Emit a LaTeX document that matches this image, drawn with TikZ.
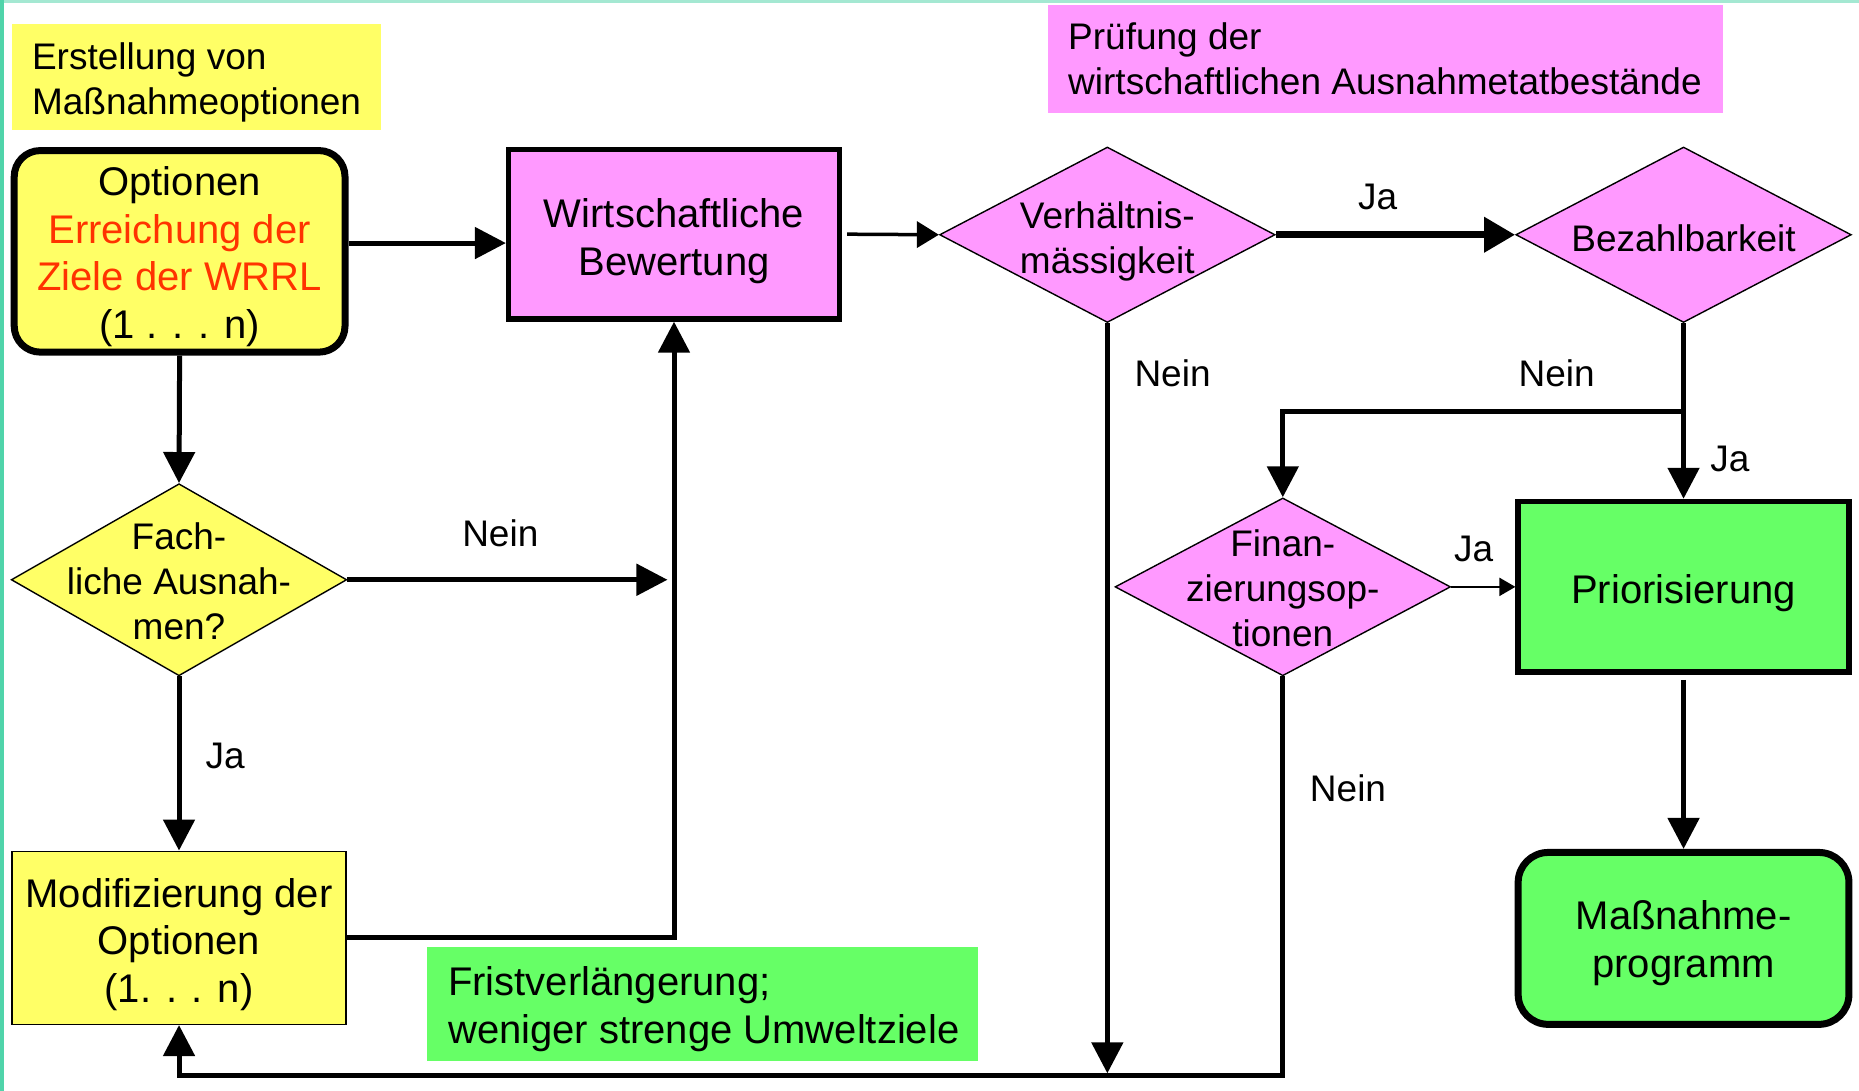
\documentclass[tikz,border=0pt]{standalone}
\usepackage{fontspec}
\setmainfont{Liberation Sans}
\usetikzlibrary{arrows.meta,shapes.geometric,calc}
\definecolor{gelb}{HTML}{FFFF66}
\definecolor{rosa}{HTML}{FF99FF}
\definecolor{gruen}{HTML}{66FF66}
\definecolor{rot}{HTML}{FF3300}
\definecolor{randlinks}{HTML}{50D4AA}
\definecolor{randoben}{HTML}{A4E8D2}
\newdimen\UU \UU=1.1856pt
\tikzset{
  fnt/.style={font=\fontsize{37}{45}\selectfont},
  bigfnt/.style={font=\fontsize{40}{47.5}\selectfont},
  bgbox/.style={inner sep=0pt},
  labtxt/.style={fnt, align=left, anchor=west, inner sep=0pt},
  boxnode/.style={inner sep=0pt, minimum width=279*\UU},
  boxtxt/.style={bigfnt, align=center, inner sep=0pt},
  dia/.style={diamond, draw=black, line width=1.4pt, fill=rosa, inner sep=0pt, minimum width=283*\UU},
  diatxt/.style={fnt, align=center, inner sep=0pt},
  yn/.style={fnt, inner sep=0pt},
  arr/.style={line width=5pt, line join=miter, -{Triangle[length=31pt,width=31pt]}},
  thinarr/.style={line width=3.5pt, -{Triangle[length=22pt,width=26pt]}},
  finearr/.style={line width=2pt, -{Triangle[length=16pt,width=18pt]}},
  fatarr/.style={line width=7pt, -{Triangle[length=31pt,width=34pt]}}
}
\begin{document}
\begin{tikzpicture}[x=1.1856pt, y=-1.1856pt]
\useasboundingbox (0,0) rectangle (1568,920);
\fill[white] (0,0) rectangle (1568,920);
\fill[randoben] (0,0) rectangle (1568,2.6);
\fill[randlinks] (0,0) rectangle (3.4,920);

% label boxes
\node[bgbox, fill=gelb, minimum width=311*\UU, minimum height=90*\UU] (lab1) at (165.5,65) {};
\node[labtxt] (lab1T) at ([yshift=-5pt]lab1.west) [xshift=17*\UU] {Erstellung von\\Maßnahmeoptionen};
\node[bgbox, fill=rosa, minimum width=569*\UU, minimum height=91*\UU] (lab2) at (1168.5,49.5) {};
\node[labtxt] (lab2T) at (lab2.west) [xshift=17*\UU] {Prüfung der\\wirtschaftlichen Ausnahmetatbestände};
\node[bgbox, fill=gruen, minimum width=465*\UU, minimum height=96*\UU] (lab3) at (592.5,847) {};
\node[labtxt, bigfnt] (lab3T) at ([yshift=-5pt]lab3.west) [xshift=18*\UU] {Fristverlängerung;\\weniger strenge Umweltziele};

% boxes
\node[boxnode, draw, fill=gelb, line width=7pt, rounded corners=26pt, minimum height=170*\UU] (opt) at (151.5,212) {};
\node[boxtxt] (optT) at ([yshift=-5.3pt]opt.center)
  {Optionen\\\textcolor{rot}{Erreichung der}\\\textcolor{rot}{Ziele der WRRL}\\(1 . . . n)};
\node[boxnode, draw, fill=rosa, line width=5.5pt, minimum height=143*\UU] (wirt) at (568.5,197.5) {};
\node[boxtxt] (wirtT) at ([yshift=-7pt]wirt.center) {Wirtschaftliche\\Bewertung};
\node[boxnode, draw, fill=gruen, line width=5.5pt, minimum height=144*\UU] (prior) at (1420,495) {};
\node[boxtxt] (priorT) at ([yshift=-6pt]prior.center) {Priorisierung};
\node[boxnode, draw, fill=gruen, line width=7pt, rounded corners=30pt, minimum height=145*\UU] (mass) at (1420,791.5) {};
\node[boxtxt] (massT) at ([yshift=-5pt]mass.center) {Maßnahme-\\programm};
\node[boxnode, draw, fill=gelb, line width=1.4pt, minimum width=282*\UU, minimum height=146*\UU] (modif) at (151,791) {};
\node[boxtxt] (modifT) at ([yshift=-6.5pt]modif.center) {Modifizierung der\\Optionen\\(1. . . n)};

% diamonds
\node[dia, minimum height=148*\UU] (verh) at (934,198) {};
\node[diatxt] (verhT) at ([yshift=-6.5pt]verh.center) {Verhältnis-\\mässigkeit};
\node[dia, minimum height=148*\UU] (bez) at (1420,198) {};
\node[diatxt] (bezT) at ([yshift=-3.5pt]bez.center) {Bezahlbarkeit};
\node[dia, fill=gelb, minimum height=162*\UU] (fach) at (151,489) {};
\node[diatxt] (fachT) at ([yshift=-2pt]fach.center) {Fach-\\liche Ausnah-\\men?};
\node[dia, minimum height=150*\UU] (fin) at (1082,495) {};
\node[diatxt] (finT) at ([yshift=-1pt]fin.center) {Finan-\\zierungsop-\\tionen};

% helper coordinates
\coordinate (yA) at (0,205);
\coordinate (fachEnd) at (563,489);
\coordinate (bezJ) at (1420,347);
\coordinate (bot) at (0,907);

% connectors
\draw[arr] (opt.east |- yA) -- (wirt.west |- yA);
\draw[thinarr, shorten <=5pt] (wirt.east) -- (verh.west);
\draw[fatarr] (verh.east) -- (bez.west);
\draw[arr] (bez.south) -- (bezJ) -- (prior.north);
\draw[arr] (bezJ) -- (fin.north |- bezJ) -- (fin.north);
\draw[arr, shorten >=2pt] (verh.south) -- (verh.south |- bot);
\draw[finearr] (fin.east) -- (prior.west);
\draw[arr, shorten <=5pt] (prior.south) -- (mass.north);
\draw[arr] (fin.south) -- (fin.south |- bot) -- (modif.south |- bot) -- (modif.south);
\draw[arr] (opt.south) -- (fach.north);
\draw[arr] (fach.east) -- (fach.east -| fachEnd);
\draw[arr] (fach.south) -- (modif.north);
\draw[arr] (modif.east) -- (modif.east -| wirt.south) -- (wirt.south);

% yes / no labels
\node[yn] (l1) at (1162,166) {Ja};
\node[yn] (l2) at (989,315) {Nein};
\node[yn] (l3) at (1313,315) {Nein};
\node[yn] (l4) at (1459,387) {Ja};
\node[yn] (l5) at (1243,463) {Ja};
\node[yn] (l6) at (1137,665) {Nein};
\node[yn] (l7) at (422,450) {Nein};
\node[yn] (l8) at (190,638) {Ja};
\end{tikzpicture}
\end{document}
